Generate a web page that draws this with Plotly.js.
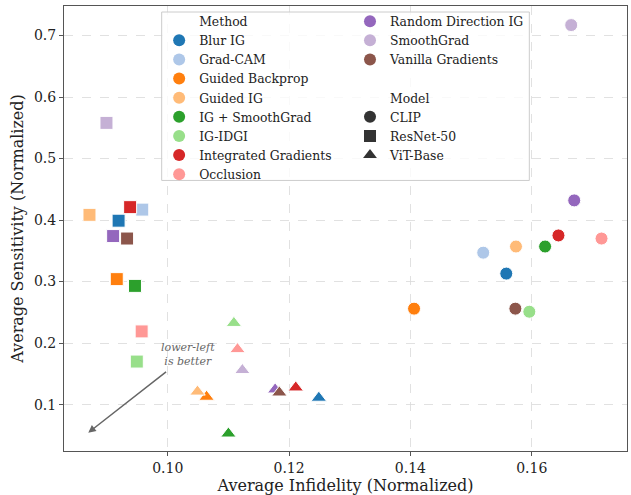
<!DOCTYPE html>
<html>
<head>
<meta charset="utf-8">
<script src="https://cdn.plot.ly/plotly-3.0.1.min.js"></script>
<style>html,body{margin:0;padding:0;background:#fff;}#chart{width:631px;height:495px;}</style>
</head>
<body>
<div id="chart"></div>
<script>
const methods = ['Blur IG', 'Grad-CAM', 'Guided Backprop', 'Guided IG', 'IG + SmoothGrad', 'IG-IDGI',
  'Integrated Gradients', 'Occlusion', 'Random Direction IG', 'SmoothGrad', 'Vanilla Gradients'];
const methodColors = ['#1f77b4', '#aec7e8', '#ff7f0e', '#ffbb78', '#2ca02c', '#98df8a',
  '#d62728', '#ff9896', '#9467bd', '#c5b0d5', '#8c564b'];
const models = ['CLIP', 'ResNet-50', 'ViT-Base'];
const modelSymbols = ['circle', 'square', 'triangle-up'];

const clipX = [0.1558, 0.1520, 0.1406, 0.1574, 0.1622, 0.1596, 0.1644, 0.1715, 0.1670, 0.1665, 0.1573];
const clipY = [0.313, 0.347, 0.256, 0.357, 0.357, 0.251, 0.375, 0.370, 0.432, 0.717, 0.256];
const resnetX = [0.0919, 0.0958, 0.0916, 0.0871, 0.0946, 0.0949, 0.0938, 0.0957, 0.0910, 0.0899, 0.0933];
const resnetY = [0.399, 0.417, 0.304, 0.4085, 0.293, 0.170, 0.421, 0.219, 0.374, 0.558, 0.370];
const vitX = [0.1249, 0.1097, 0.1064, 0.1049, 0.1100, 0.1109, 0.1211, 0.1115, 0.1177, 0.1123, 0.1184];
const vitY = [0.111, 0.535, 0.1126, 0.121, 0.0528, 0.2326, 0.1277, 0.190, 0.1245, 0.156, 0.1195];

const seriesX = [clipX, resnetX, vitX];
const seriesY = [clipY, resnetY, vitY];
const markerSizes = [13, 13, 13.5];

const FONT = 'DejaVu Serif, serif';
const traces = [];

// data traces, one per model
for (let m = 0; m < models.length; m++) {
  traces.push({
    type: 'scatter', mode: 'markers',
    x: seriesX[m], y: seriesY[m],
    text: methods,
    name: models[m],
    showlegend: false,
    marker: {symbol: modelSymbols[m], size: markerSizes[m], color: methodColors,
      line: {color: '#ffffff', width: 1}}
  });
}

function legendEntry(name, color, symbol, legend) {
  return {type: 'scatter', mode: 'markers', x: [null], y: [null], name: name,
    legend: legend, showlegend: true, hoverinfo: 'skip',
    marker: {symbol: symbol, size: 12, color: color, line: {width: 0}}};
}

// Column 1
traces.push(legendEntry('Method', 'rgba(0,0,0,0)', 'circle', 'legend'));
for (let i = 0; i < 8; i++) traces.push(legendEntry(methods[i], methodColors[i], 'circle', 'legend'));
// Column 2
for (let i = 8; i < methods.length; i++) traces.push(legendEntry(methods[i], methodColors[i], 'circle', 'legend2'));
traces.push(legendEntry(' ', 'rgba(0,0,0,0)', 'circle', 'legend2'));
traces.push(legendEntry('Model', 'rgba(0,0,0,0)', 'circle', 'legend2'));
for (let m = 0; m < models.length; m++) traces.push(legendEntry(models[m], '#333333', modelSymbols[m], 'legend2'));

const legendCommon = {
  xanchor: 'left', yanchor: 'top', bgcolor: 'rgba(0,0,0,0)', borderwidth: 0,
  font: {family: FONT, size: 12.4, color: '#222'}, tracegroupgap: 0, itemclick: false
};

const layout = {
  width: 631, height: 495,
  margin: {l: 64, r: 4, t: 6, b: 44},
  paper_bgcolor: '#ffffff', plot_bgcolor: '#ffffff',
  font: {family: FONT, color: '#222'},
  xaxis: {
    range: [0.0829, 0.1757], tickvals: [0.10, 0.12, 0.14, 0.16], tickformat: '.2f',
    showgrid: true, gridcolor: '#d9d9d9', griddash: 'dash', gridwidth: 0.8,
    zeroline: false, showline: true, mirror: true, linecolor: '#555', linewidth: 1,
    ticks: 'outside', ticklen: 4, tickcolor: '#555',
    tickfont: {family: FONT, size: 14, color: '#222'},
    title: {text: 'Average Infidelity (Normalized)', font: {family: FONT, size: 16, color: '#222'}, standoff: 3}
  },
  yaxis: {
    range: [0.0246, 0.748], tickvals: [0.1, 0.2, 0.3, 0.4, 0.5, 0.6, 0.7], tickformat: '.1f',
    showgrid: true, gridcolor: '#d9d9d9', griddash: 'dash', gridwidth: 0.8,
    zeroline: false, showline: true, mirror: true, linecolor: '#555', linewidth: 1,
    ticks: 'outside', ticklen: 4, tickcolor: '#555',
    tickfont: {family: FONT, size: 14, color: '#222'},
    title: {text: 'Average Sensitivity (Normalized)', font: {family: FONT, size: 16, color: '#222'}, standoff: 6}
  },
  legend: Object.assign({x: 0.169, y: 0.9985}, legendCommon),
  legend2: Object.assign({x: 0.508, y: 0.9985}, legendCommon),
  shapes: [{
    type: 'rect', xref: 'paper', yref: 'paper', layer: 'above',
    x0: 0.1735, x1: 0.8265, y0: 0.608, y1: 0.9865,
    fillcolor: 'rgba(255,255,255,0.8)', line: {color: '#cccccc', width: 1}
  }],
  annotations: [
    {x: 0.0869, y: 0.0544, xref: 'x', yref: 'y', ax: 0.1003, ay: 0.1577, axref: 'x', ayref: 'y',
      text: ' ', showarrow: true, arrowhead: 2, arrowsize: 1, arrowwidth: 1.5, arrowcolor: '#666666', standoff: 0, startstandoff: 0},
    {x: 0.1033, y: 0.182, xref: 'x', yref: 'y', showarrow: false,
      text: '<i>lower-left<br>is better</i>', align: 'center',
      font: {family: FONT, size: 11, color: '#666666'}}
  ]
};

Plotly.newPlot('chart', traces, layout, {displayModeBar: false, staticPlot: true});
</script>
</body>
</html>
